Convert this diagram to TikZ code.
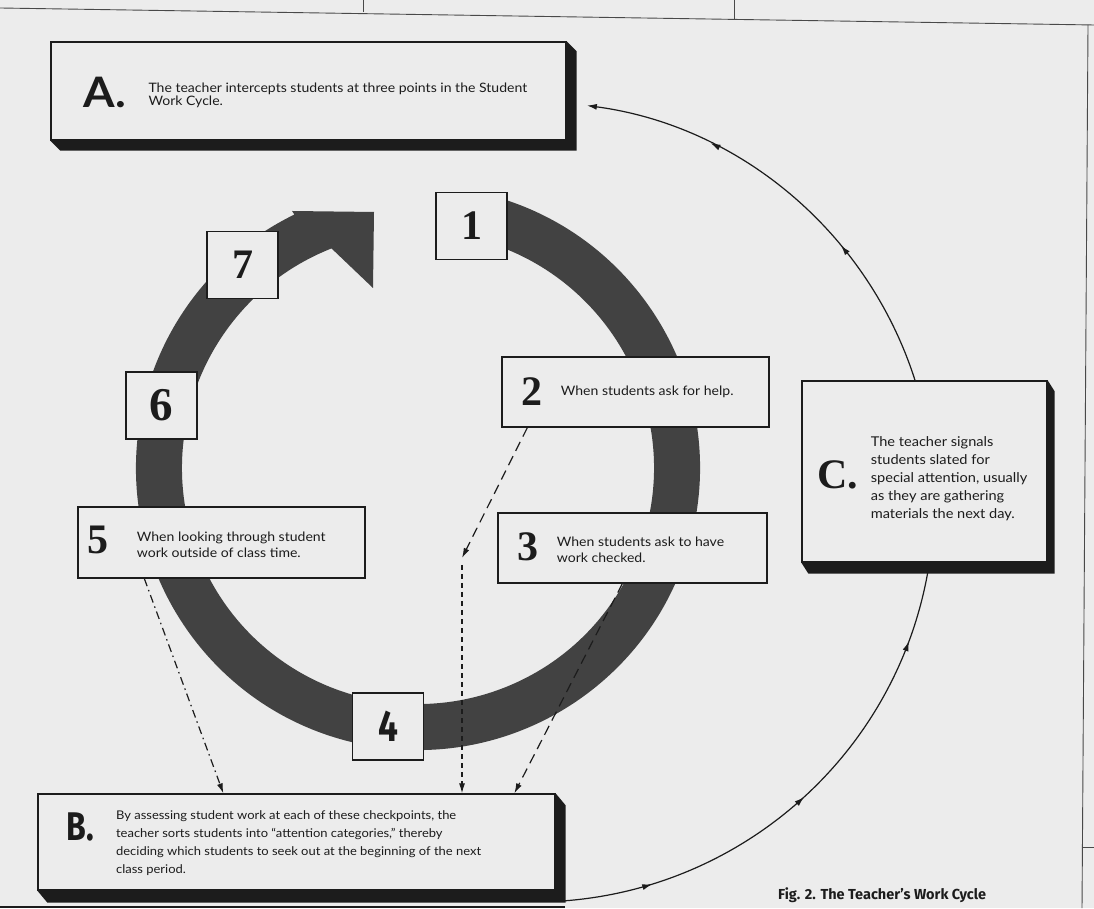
\documentclass[tikz,border=0pt]{standalone}
\usepackage{fontspec}
\usepackage{tikz}
\usetikzlibrary{arrows.meta}
\usetikzlibrary{positioning}
\usetikzlibrary{decorations.markings}
\newfontfamily\bodyfont{Lato}[FakeStretch=1.08]
\newfontfamily\numfont{Liberation Serif}
\newfontfamily\condfont{Fira Sans}[FakeStretch=0.8]
\newfontfamily\capfont{Fira Sans}
\definecolor{paper}{RGB}{236,236,236}
\definecolor{ink}{RGB}{28,28,28}
\definecolor{ringgray}{RGB}{66,66,66}
\newcommand\dropshadow[3]{\fill[ink] (#1.north east) -- ++(#2,-#3) -- ([shift={(#2,-#3)}]#1.south east) -- ([shift={(#2,-#3)}]#1.south west) -- (#1.south west) -- (#1.south east) -- cycle;}

\begin{document}
\begin{tikzpicture}[x=1pt,y=1pt,every node/.style={text=ink},
  frame/.style={draw=ink,line width=1.3pt,fill=paper,inner sep=0pt},
  numbox/.style={frame,minimum width=71pt,minimum height=67pt,font=\numfont\bfseries\fontsize{42}{42}\selectfont},
  digit/.style={inner sep=0pt,font=\numfont\bfseries\fontsize{42}{42}\selectfont},
  note/.style={inner sep=0pt,align=left,font=\bodyfont\fontsize{13}{#1}\selectfont},
  note/.default=16,
  hint/.style={draw=ink,line width=1.2pt,-{Latex[length=10pt,width=6pt]}},
  flow/.style={draw=ink,line width=1.2pt},
  arcmark/.style={postaction={decorate,decoration={markings,mark=at position #1 with {\arrow{Latex[length=10pt,width=6pt]}}}}}]
  \useasboundingbox (0,0) rectangle (1094,908);
  \fill[paper] (0,0) rectangle (1094,908);
  \draw[ink!80,line width=0.9pt] (0,900) -- (1094,883);
  \draw[ink!80,line width=0.9pt] (363,908) -- (363,895.5);
  \draw[ink!80,line width=0.9pt] (734,908) -- (734,889);
  \draw[ink!80,line width=0.9pt] (1088,883) -- (1082,0);
  \draw[ink!80,line width=0.9pt] (1082,61) -- (1094,61);
  \draw[ink,line width=2pt] (0,1.5) -- (565,1.5);

  \fill[ringgray] ([shift={(418,440)}]76:282) arc[start angle=76,end angle=-244,radius=282]
    -- (292,697) -- (374,696) -- (373,620)
    -- ([shift={(418,440)}]111.5:236) arc[start angle=-248.5,end angle=76,radius=236] -- cycle;

  \coordinate (hub) at (534,406);
  \draw[flow,arcmark=0.174,arcmark=0.508,arcmark=0.866] ([shift={(-86:400)}]hub) arc[start angle=-86,end angle=-10.2,radius=400];
  \draw[flow,-{Latex[length=10pt,width=6pt]},arcmark=0.346,arcmark=0.714] ([shift={(17.4:400)}]hub) arc[start angle=17.4,end angle=82.4,radius=400];

  \node[frame,minimum width=515pt,minimum height=98pt] (A) at (308.5,817) {};
  \dropshadow{A}{10}{10}
  \node[frame,minimum width=517pt,minimum height=96pt] (B) at (296.5,66) {};
  \dropshadow{B}{10}{12}
  \node[frame,minimum width=245pt,minimum height=181pt] (C) at (924.5,436.5) {};
  \dropshadow{C}{7}{11}

  \node[numbox] (1) at (471.5,682) {1};
  \node[numbox] (7) at (242.5,643) {7};
  \node[numbox,font=\numfont\bfseries\fontsize{47}{47}\selectfont] (6) at (161.5,502.5) {6};
  \node[numbox,font=\condfont\bfseries\fontsize{44}{44}\selectfont] (4) at (388,181.5) {4};
  \node[frame,minimum width=267pt,minimum height=70pt] (2) at (635.5,516) {};
  \node[frame,minimum width=269pt,minimum height=70pt] (3) at (632.5,360) {};
  \node[frame,minimum width=287pt,minimum height=71pt] (5) at (221.5,365.5) {};

  \node[digit] (d2) at (532,516) {2};
  \node[note,right=18pt of d2] (t2) {When students ask for help.};
  \node[digit] (d3) at (528,361) {3};
  \node[note,right=18pt of d3,yshift=-3pt] (t3) {When students ask to have\\work checked.};
  \node[digit] (d5) at (98,368) {5};
  \node[note,right=28pt of d5,yshift=-5pt] (t5) {When looking through student\\work outside of class time.};

  \node[inner sep=0pt,font=\bodyfont\bfseries\fontsize{42}{42}\selectfont] (la) at (105,816) {A.};
  \node[note=13.5,right=22pt of la,yshift=-3.5pt] (ta) {The teacher intercepts students at three points in the Student\\Work Cycle.};
  \node[inner sep=0pt,font=\condfont\bfseries\fontsize{40}{40}\selectfont] (lb) at (80,81) {B.};
  \node[note=18,right=22pt of lb,yshift=-16pt,font=\bodyfont\fontsize{12}{18}\selectfont] (tb) {By assessing student work at each of these checkpoints, the\\teacher sorts students into “attention categories,” thereby\\deciding which students to seek out at the beginning of the next\\class period.};
  \node[inner sep=0pt,font=\numfont\bfseries\fontsize{42}{42}\selectfont] (lc) at (838,433) {C.};
  \node[note=18,right=12pt of lc,yshift=-3.5pt,font=\bodyfont\fontsize{13.5}{18}\selectfont] (tc) {The teacher signals\\students slated for\\special attention, usually\\as they are gathering\\materials the next day.};

  \coordinate (split) at (462,350);
  \draw[hint,dash pattern=on 8pt off 4pt on 1.5pt off 4pt] ([xshift=67]5.south west) -- ([xshift=186]B.north west);
  \draw[hint,dash pattern=on 10pt off 6pt] ([xshift=26]2.south west) -- (split);
  \draw[hint,dash pattern=on 5pt off 4pt] ([yshift=-7]split) -- (split |- B.north);
  \draw[hint,dash pattern=on 10pt off 6pt] ([xshift=125]3.south west) -- ([xshift=477]B.north west);

  \node[anchor=west,inner sep=0pt,font=\capfont\bfseries\fontsize{14.5}{14.5}\selectfont] (cap) at (778,13) {Fig. 2. The Teacher’s Work Cycle};
\end{tikzpicture}
\end{document}
